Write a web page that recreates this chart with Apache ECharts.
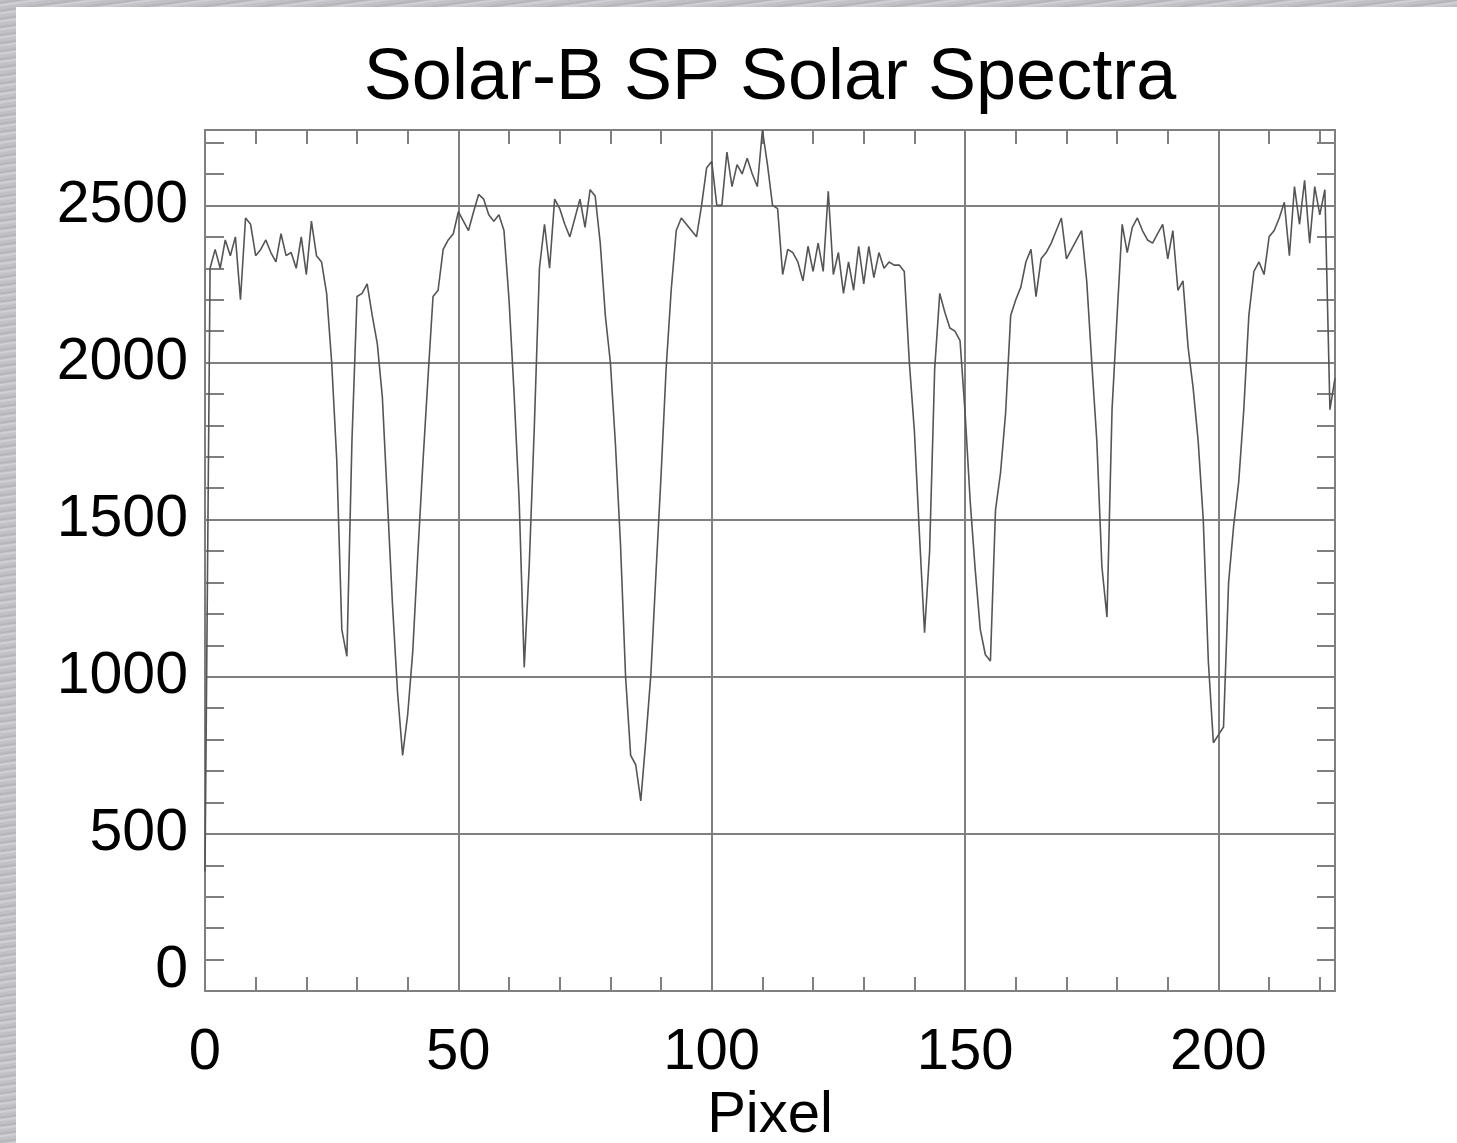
<!DOCTYPE html>
<html>
<head>
    <meta charset="UTF-8">
    <script type="text/javascript" src="https://cdn.jsdelivr.net/npm/echarts@6.0.0/dist/echarts.min.js"></script>
    <style>
        html, body { margin: 0; padding: 0; width: 1457px; height: 1143px; overflow: hidden; }
        body { background: repeating-linear-gradient(172deg, #c6c6ca 0px, #b3b3b7 3px, #d3d3d7 5px, #bdbdc1 8px); }
        #paper { position: absolute; left: 16px; top: 7px; right: 0; bottom: 0; background: #fff; }
        #myDiv { position: absolute; left: 0; top: 0; width: 1457px; height: 1143px; }
    </style>
    <script type="text/javascript">
        // counts per pixel (pixel 0..223)
        var counts0 = [380, 2300, 2360, 2300, 2390, 2340, 2400, 2200, 2460, 2440,
                       2340, 2360, 2390, 2350, 2320, 2410, 2340, 2350, 2300, 2400,
                       2280, 2450, 2340, 2320, 2220, 2000, 1690, 1150, 1065, 1750,
                       2210, 2220, 2250, 2150, 2060, 1890, 1560, 1230, 950, 750,
                       880, 1080, 1390, 1680, 1950, 2210, 2230, 2360, 2390, 2410,
                       2480, 2450, 2420, 2480, 2535, 2520, 2470, 2450, 2470, 2420];
        var counts1 = [2200, 1900, 1560, 1030, 1360, 1800, 2300, 2440, 2300, 2520,
                       2490, 2440, 2400, 2460, 2520, 2430, 2550, 2530, 2380, 2150,
                       2000, 1740, 1420, 1000, 750, 720, 605, 800, 1010, 1330,
                       1640, 1980, 2230, 2420, 2460, 2440, 2420, 2400, 2500, 2620,
                       2640, 2500, 2500, 2670, 2560, 2630, 2600, 2650, 2600, 2560,
                       2740, 2630, 2500, 2490, 2280, 2360, 2350, 2320, 2260, 2370];
        var counts2 = [2290, 2380, 2290, 2545, 2280, 2350, 2220, 2320, 2230, 2370,
                       2250, 2370, 2270, 2350, 2300, 2320, 2310, 2310, 2290, 2000,
                       1780, 1450, 1140, 1400, 1980, 2220, 2160, 2110, 2100, 2070,
                       1840, 1560, 1340, 1150, 1070, 1050, 1530, 1650, 1840, 2150,
                       2200, 2240, 2320, 2360, 2210, 2330, 2350, 2380, 2420, 2460,
                       2330, 2360, 2390, 2420, 2260, 2000, 1750, 1350, 1190, 1850];
        var counts3 = [2150, 2440, 2350, 2430, 2460, 2420, 2390, 2380, 2410, 2440,
                       2330, 2420, 2230, 2260, 2050, 1920, 1750, 1500, 1050, 790,
                       815, 840, 1300, 1480, 1620, 1850, 2150, 2290, 2320, 2280,
                       2400, 2420, 2460, 2510, 2340, 2560, 2440, 2580, 2380, 2560,
                       2470, 2550, 1850, 1950];

        var xMax = 223;
        var yMax = 2740;
        var xMajor = 50, xMinor = 10;
        var yMajor = 500, yMinor = 100;
        var chartTitle = 'Solar-B SP Solar Spectra';
        var xTitle = 'Pixel';

        var gray = '#7f7f7f';
        var font = "'Liberation Sans', Arial, Helvetica, sans-serif";

        // one grid colour every major step, the minor steps stay invisible
        function gridColors(major, minor) {
            var c = [gray];
            for (var k = 1; k < major / minor; k++) c.push('rgba(0,0,0,0)');
            return c;
        }

        window.onload = function () {
            var counts = counts0.concat(counts1, counts2, counts3);
            var data = [];
            for (var i = 0; i < counts.length; i++) {
                data.push([i, counts[i]]);
            }

            var chart = echarts.init(document.getElementById('myDiv'));
            var option = {
                animation: false,
                grid: {left: 205, top: 130, right: 122, bottom: 152, outerBoundsMode: 'none'},
                xAxis: [
                    {
                        type: 'value', position: 'bottom', min: 0, max: xMax, interval: xMinor,
                        axisLine: {show: true, onZero: false, lineStyle: {color: gray, width: 2}},
                        axisTick: {show: true, inside: true, length: 14, lineStyle: {color: gray, width: 2}},
                        splitLine: {show: true, lineStyle: {color: gridColors(xMajor, xMinor), width: 2}},
                        axisLabel: {
                            fontSize: 58, color: '#000', fontFamily: font, margin: 33,
                            formatter: function (v) { return v % xMajor === 0 ? String(v) : ''; }
                        },
                        name: xTitle, nameLocation: 'middle', nameGap: 96,
                        nameTextStyle: {fontSize: 58, color: '#000', fontFamily: font}
                    },
                    {
                        type: 'value', position: 'top', min: 0, max: xMax, interval: xMinor,
                        axisLine: {show: true, onZero: false, lineStyle: {color: gray, width: 2}},
                        axisTick: {show: true, inside: true, length: 14, lineStyle: {color: gray, width: 2}},
                        axisLabel: {show: false},
                        splitLine: {show: false},
                        name: chartTitle, nameLocation: 'middle', nameGap: 15,
                        nameTextStyle: {fontSize: 72, color: '#000', fontFamily: font}
                    }
                ],
                yAxis: [
                    {
                        type: 'value', position: 'left', min: 0, max: yMax, interval: yMinor,
                        axisLine: {show: true, onZero: false, lineStyle: {color: gray, width: 2}},
                        axisTick: {show: true, inside: true, length: 19, lineStyle: {color: gray, width: 2}},
                        splitLine: {show: true, lineStyle: {color: gridColors(yMajor, yMinor), width: 2}},
                        axisLabel: {
                            fontSize: 59, color: '#000', fontFamily: font, margin: 17,
                            formatter: function (v) {
                                if (v % yMajor !== 0) return '';
                                if (v === 0) return '{low|0}';
                                return String(v);
                            },
                            rich: {
                                low: {fontSize: 59, color: '#000', fontFamily: font, padding: [0, 0, 40, 0]}
                            }
                        }
                    },
                    {
                        type: 'value', position: 'right', min: 0, max: yMax, interval: yMinor,
                        axisLine: {show: true, onZero: false, lineStyle: {color: gray, width: 2}},
                        axisTick: {show: true, inside: true, length: 18, lineStyle: {color: gray, width: 2}},
                        axisLabel: {show: false},
                        splitLine: {show: false}
                    }
                ],
                series: [
                    {
                        type: 'line',
                        xAxisIndex: 0,
                        yAxisIndex: 0,
                        data: data,
                        symbol: 'none',
                        showSymbol: false,
                        lineStyle: {color: '#555555', width: 1.6},
                        z: 5
                    }
                ]
            };
            chart.setOption(option);
        };
    </script>
</head>
<body>
    <div id="paper"></div>
    <div id="myDiv"></div>
</body>
</html>
